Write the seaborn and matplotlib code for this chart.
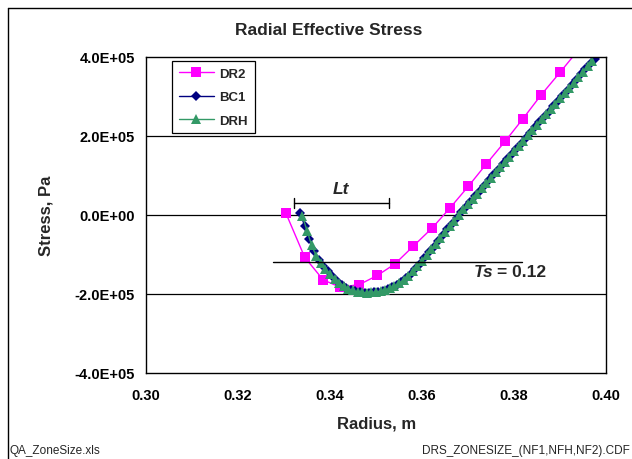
import matplotlib
matplotlib.use("Agg")
import matplotlib.pyplot as plt
from matplotlib.lines import Line2D
import seaborn as sns
import pandas as pd

# ---------------- data ----------------
dr2_r = [0.3304, 0.3345, 0.3385, 0.3422, 0.3464, 0.3503, 0.3541, 0.3581,
         0.3622, 0.3661, 0.3701, 0.3739, 0.3781, 0.3819, 0.3859, 0.3900, 0.3940]
dr2_s = [5e3, -107e3, -164e3, -183e3, -176e3, -153e3, -124e3, -79e3,
         -33e3, 18e3, 73e3, 128e3, 187e3, 243e3, 304e3, 361e3, 418e3]

bc1_r = [0.3335, 0.3345, 0.3355, 0.3365, 0.3375, 0.3385, 0.3395, 0.3405, 0.3415, 0.3425,
         0.3435, 0.3445, 0.3455, 0.3465, 0.3475, 0.3485, 0.3495, 0.3505, 0.3515, 0.3525,
         0.3535, 0.3545, 0.3555, 0.3565, 0.3575, 0.3585, 0.3595, 0.3605, 0.3615, 0.3625,
         0.3635, 0.3645, 0.3655, 0.3665, 0.3675, 0.3685, 0.3695, 0.3705, 0.3715, 0.3725,
         0.3735, 0.3745, 0.3755, 0.3765, 0.3775, 0.3785, 0.3795, 0.3805, 0.3815, 0.3825,
         0.3835, 0.3845, 0.3855, 0.3865, 0.3875, 0.3885, 0.3895, 0.3905, 0.3915, 0.3925,
         0.3935, 0.3945, 0.3955, 0.3965, 0.3975]
bc1_s = [5e3, -28e3, -60e3, -92e3, -113e3, -129e3, -143e3, -155e3, -166e3, -176e3,
         -184e3, -189e3, -193e3, -196e3, -197e3, -197e3, -196e3, -194e3, -192e3, -188e3,
         -183e3, -177e3, -169e3, -160e3, -149e3, -136e3, -123e3, -109e3, -94e3, -80e3,
         -65e3, -51e3, -36e3, -22e3, -7e3, 7e3, 20e3, 34e3, 47e3, 61e3,
         74e3, 88e3, 101e3, 114e3, 128e3, 141e3, 155e3, 168e3, 181e3, 195e3,
         208e3, 222e3, 235e3, 248e3, 262e3, 275e3, 289e3, 302e3, 315e3, 329e3,
         342e3, 356e3, 369e3, 382e3, 396e3]

drh_r = [0.3340, 0.3350, 0.3360, 0.3370, 0.3380, 0.3390, 0.3400, 0.3410, 0.3420, 0.3430,
         0.3440, 0.3450, 0.3460, 0.3470, 0.3480, 0.3490, 0.3500, 0.3510, 0.3520, 0.3530,
         0.3540, 0.3550, 0.3560, 0.3570, 0.3580, 0.3590, 0.3600, 0.3610, 0.3620, 0.3630,
         0.3640, 0.3650, 0.3660, 0.3670, 0.3680, 0.3690, 0.3700, 0.3710, 0.3720, 0.3730,
         0.3740, 0.3750, 0.3760, 0.3770, 0.3780, 0.3790, 0.3800, 0.3810, 0.3820, 0.3830,
         0.3840, 0.3850, 0.3860, 0.3870, 0.3880, 0.3890, 0.3900, 0.3910, 0.3920, 0.3930,
         0.3940, 0.3950, 0.3960, 0.3970]
drh_s = [-2e3, -40e3, -76e3, -104e3, -121e3, -136e3, -149e3, -161e3, -171e3, -180e3,
         -187e3, -191e3, -195e3, -196e3, -197e3, -196e3, -195e3, -193e3, -190e3, -186e3,
         -180e3, -173e3, -165e3, -155e3, -143e3, -130e3, -116e3, -102e3, -87e3, -73e3,
         -58e3, -44e3, -29e3, -15e3, 0e3, 14e3, 27e3, 41e3, 54e3, 68e3,
         81e3, 94e3, 108e3, 121e3, 135e3, 148e3, 161e3, 175e3, 188e3, 202e3,
         215e3, 228e3, 242e3, 255e3, 268e3, 282e3, 295e3, 309e3, 322e3, 335e3,
         349e3, 362e3, 376e3, 389e3]

x_ticks = [0.30, 0.32, 0.34, 0.36, 0.38, 0.40]
y_ticks = [-4e5, -2e5, 0, 2e5, 4e5]

title = "Radial Effective Stress"
xlabel = "Radius, m"
ylabel = "Stress, Pa"

# ---------------- style ----------------
sns.set_style("white")
plt.rcParams['font.family'] = ['Liberation Sans', 'DejaVu Sans']

W, H = 632, 460
fig = plt.figure(figsize=(W / 100, H / 100), dpi=100)
ax = fig.add_axes([146 / W, 1 - 374 / H, 460 / W, 316 / H])

C_DR2 = "#FF00FF"
C_BC1 = "#000080"
C_DRH = "#339966"

d1 = pd.DataFrame({"r": dr2_r, "s": dr2_s})
d2 = pd.DataFrame({"r": bc1_r, "s": bc1_s})
d3 = pd.DataFrame({"r": drh_r, "s": drh_s})

sns.lineplot(data=d1, x="r", y="s", sort=False, estimator=None, ax=ax, color=C_DR2,
             lw=1.0, marker="s", markersize=6.5, markeredgewidth=0, label="DR2")
sns.lineplot(data=d2, x="r", y="s", sort=False, estimator=None, ax=ax, color=C_BC1,
             lw=1.0, marker="D", markersize=5.0, markeredgewidth=0, label="BC1")
sns.lineplot(data=d3, x="r", y="s", sort=False, estimator=None, ax=ax, color=C_DRH,
             lw=1.0, marker="^", markersize=7.5, markeredgewidth=0, label="DRH")

ax.set_xlim(0.30, 0.40)
ax.set_ylim(-4e5, 4e5)
ax.set_xticks(x_ticks)
ax.set_xticklabels([f"{v:.2f}" for v in x_ticks])
ax.set_yticks(y_ticks)
ax.set_yticklabels([f"{v:.1E}" for v in y_ticks])

for y in y_ticks[1:-1]:
    ax.axhline(y, color="black", lw=0.9, zorder=0.5)

for side in ["left", "bottom", "right", "top"]:
    ax.spines[side].set_visible(True)
    ax.spines[side].set_color("black")
    ax.spines[side].set_linewidth(1.0)

ax.tick_params(axis="both", which="both", direction="out", length=4, width=1,
               color="black", labelsize=10.5, labelcolor="black")
ax.tick_params(axis="x", pad=7)
ax.tick_params(axis="y", pad=4)
for lab in ax.get_xticklabels() + ax.get_yticklabels():
    lab.set_fontweight("bold")

ax.set_xlabel(xlabel, fontsize=12, fontweight="bold")
ax.set_ylabel(ylabel, fontsize=12, fontweight="bold")
ax.xaxis.set_label_coords(0.502, (374 - 424) / 316)
ax.xaxis.label.set_va("center")
ax.yaxis.set_label_coords((46 - 146) / 460, 0.5)
ax.yaxis.label.set_va("center")

leg = ax.legend(loc="upper left", bbox_to_anchor=((172 - 146) / 460, (374 - 62) / 316),
                borderaxespad=0, frameon=True, fancybox=False, edgecolor="black",
                framealpha=1, handlelength=2.7, labelspacing=0.85, borderpad=0.5,
                handletextpad=0.4, prop={"weight": "bold", "size": 9.5})
leg.get_frame().set_linewidth(0.9)

# Lt bracket
lt_y = 30e3
ax.plot([0.3322, 0.3528], [lt_y, lt_y], color="black", lw=1.0)
ax.plot([0.3322, 0.3322], [lt_y - 12e3, lt_y + 12e3], color="black", lw=1.0)
ax.plot([0.3528, 0.3528], [lt_y - 12e3, lt_y + 12e3], color="black", lw=1.0)
ax.text(0.3424, 66e3, "Lt", ha="center", va="center", fontsize=12.5,
        fontweight="bold", fontstyle="italic")

# Ts line
ax.plot([0.3276, 0.3817], [-118e3, -118e3], color="black", lw=1.0)
ax.text(0.3712, -143e3, "Ts", ha="left", va="center", fontsize=12.5,
        fontweight="bold", fontstyle="italic")
ax.text(0.3764, -143e3, "= 0.12", ha="left", va="center", fontsize=12.5,
        fontweight="bold")

# title and footers
fig.text(329 / W, 1 - 31 / H, title, ha="center", va="center", fontsize=12.5,
         fontweight="bold")
fig.text(10 / W, 1 - 451 / H, "QA_ZoneSize.xls", ha="left", va="center", fontsize=8.5)
fig.text(630 / W, 1 - 451 / H, "DRS_ZONESIZE_(NF1,NFH,NF2).CDF", ha="right",
         va="center", fontsize=8.5)

# outer chart frame
fig.add_artist(Line2D([8 / W, 1.0], [1 - 9 / H, 1 - 9 / H], color="black", lw=1.0,
                      transform=fig.transFigure))
fig.add_artist(Line2D([8 / W, 8 / W], [1 - 9 / H, 0.0], color="black", lw=1.0,
                      transform=fig.transFigure))

fig.savefig("out.png", dpi=100)
